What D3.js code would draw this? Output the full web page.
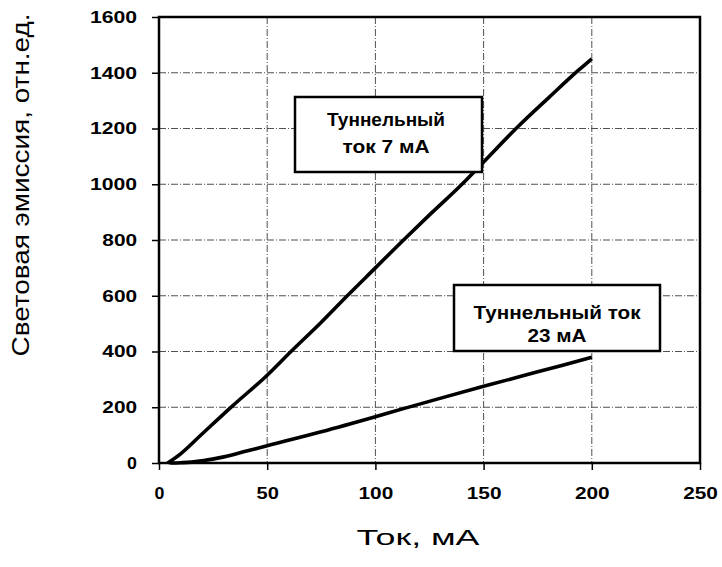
<!DOCTYPE html>
<html><head><meta charset="utf-8">
<script src="https://cdn.jsdelivr.net/npm/d3@7"></script>
<style>html,body{margin:0;padding:0;background:#fff;}svg{display:block;}</style>
</head><body>
<script>
const xTicks = [0, 50, 100, 150, 200, 250];
const yTicks = [0, 200, 400, 600, 800, 1000, 1200, 1400, 1600];
const s7x = [4, 10, 20, 34, 50, 61, 75, 87, 100, 113, 125, 140, 150, 165, 180, 194, 200];
const s7y = [0, 33, 105, 205, 315, 400, 505, 600, 700, 800, 890, 1000, 1080, 1200, 1310, 1410, 1450];
const s23x = [5, 10, 15, 20, 30, 40, 50, 75, 100, 113, 129, 150, 175, 200];
const s23y = [0, 1, 3, 8, 22, 42, 62, 112, 166, 195, 230, 275, 327, 379];
const label7 = ["Туннельный", "ток 7 мА"];
const label23 = ["Туннельный ток", "23 мА"];
const xTitle = "Ток, мА";
const yTitle = "Световая эмиссия, отн.ед.";

const W = 722, H = 567;
const L = 159, R = 700, T = 17, B = 463;
const svg = d3.select("body").append("svg").attr("width", W).attr("height", H);
const x = d3.scaleLinear().domain([0, 250]).range([L, R]);
const y = d3.scaleLinear().domain([0, 1600]).range([B, T]);
const font = "'Liberation Sans', Arial, sans-serif";

// gridlines
const grid = svg.append("g").attr("stroke", "#333").attr("stroke-width", 1)
  .attr("stroke-dasharray", "7,2,1,2").attr("opacity", 0.85);
grid.selectAll("line.h").data(yTicks.filter(v => v > 0 && v < 1600)).join("line")
  .attr("class", "h")
  .attr("x1", L).attr("x2", R).attr("y1", d => y(d)).attr("y2", d => y(d));
grid.selectAll("line.v").data(xTicks.filter(v => v > 0 && v < 250)).join("line")
  .attr("class", "v")
  .attr("y1", T).attr("y2", B).attr("x1", d => x(d)).attr("x2", d => x(d));

// axes
const fmt = d3.format("d");
const gy = svg.append("g").attr("transform", `translate(${L},0)`)
  .call(d3.axisLeft(y).tickValues(yTicks).tickFormat(fmt).tickSize(7).tickPadding(15));
const gx = svg.append("g").attr("transform", `translate(0,${B})`)
  .call(d3.axisBottom(x).tickValues(xTicks).tickFormat(fmt).tickSize(7).tickPadding(17));
[gy, gx].forEach(g => {
  g.select(".domain").remove();
  g.selectAll(".tick line").attr("stroke", "#000").attr("stroke-width", 1.5);
  g.selectAll(".tick text").attr("fill", "#000")
    .style("font-family", font).style("font-weight", "bold").style("font-size", "16.5px")
    .attr("textLength", function () { return this.textContent.length * 12.4 - 2.5; })
    .attr("lengthAdjust", "spacingAndGlyphs");
});

// frame
svg.append("rect").attr("x", L).attr("y", T).attr("width", R - L).attr("height", B - T)
  .attr("fill", "none").attr("stroke", "#000").attr("stroke-width", 2.5);

// data lines
const line = d3.line().x(d => x(d[0])).y(d => y(d[1])).curve(d3.curveMonotoneX);
svg.append("path").datum(s7x.map((v, i) => [v, s7y[i]])).attr("d", line)
  .attr("fill", "none").attr("stroke", "#000").attr("stroke-width", 3.6).attr("stroke-linejoin", "round");
svg.append("path").datum(s23x.map((v, i) => [v, s23y[i]])).attr("d", line)
  .attr("fill", "none").attr("stroke", "#000").attr("stroke-width", 3.6).attr("stroke-linejoin", "round");

// label boxes
function box(x0, y0, x1, y1, lines, cx, baselines, widths) {
  svg.append("rect").attr("x", x0).attr("y", y0).attr("width", x1 - x0).attr("height", y1 - y0)
    .attr("fill", "#fff").attr("stroke", "#000").attr("stroke-width", 2.5);
  lines.forEach((t, i) => {
    svg.append("text").attr("x", cx).attr("y", baselines[i]).attr("text-anchor", "middle")
      .style("font-family", font).style("font-weight", "bold").style("font-size", "19px")
      .attr("textLength", widths[i]).attr("lengthAdjust", "spacingAndGlyphs").text(t);
  });
}
box(295, 97, 482, 172, label7, 386, [126, 153], [118, 87]);
box(454, 285, 660, 351, label23, 557, [318.5, 342], [167, 59]);

// axis titles
svg.append("text").attr("x", 418).attr("y", 545).attr("text-anchor", "middle")
  .style("font-family", font).style("font-size", "22px")
  .attr("textLength", 123).attr("lengthAdjust", "spacingAndGlyphs").text(xTitle);
svg.append("text").attr("transform", "translate(28.5,185) rotate(-90)").attr("text-anchor", "middle")
  .style("font-family", font).style("font-size", "23px")
  .attr("textLength", 343).attr("lengthAdjust", "spacingAndGlyphs").text(yTitle);
</script>
</body></html>
